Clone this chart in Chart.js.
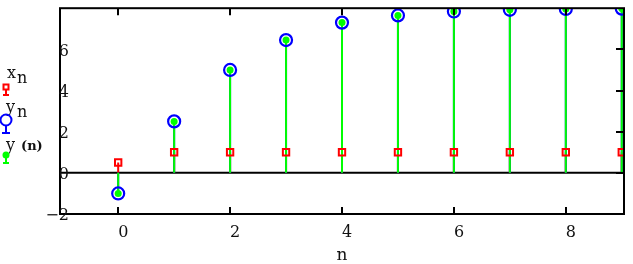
<!DOCTYPE html>
<html>
<head>
<meta charset="utf-8">
<script src="https://cdn.jsdelivr.net/npm/chart.js@4.4.0/dist/chart.umd.min.js"></script>
<style>
  html, body { margin: 0; padding: 0; background: #fff; }
  #wrap { width: 633px; height: 264px; }
</style>
</head>
<body>
<div id="wrap"><canvas id="stemChart" width="633" height="264"></canvas></div>
<script>
// sample index and the two sequences
const nValues = [0, 1, 2, 3, 4, 5, 6, 7, 8, 9];
const xn = [0.5, 1, 1, 1, 1, 1, 1, 1, 1, 1];
const yn = [-1, 2.5, 5.0, 6.45, 7.3, 7.65, 7.84, 7.92, 7.96, 7.98];

// axis ticks
const xTicks = [0, 2, 4, 6, 8];
const yTicks = [-2, 0, 2, 4, 6, 8];
const yTickLabels = ["\u22122", "0", "2", "4", "6", ""];

const RED = "#ff0000";
const BLUE = "#0000ff";
const GREEN = "#00ff00";
const SERIF = '"DejaVu Serif", "Liberation Serif", serif';

function toPoints(values) {
  return nValues.map((n, i) => ({ x: n, y: values[i] }));
}

// Function to draw the little legend on the left
function drawLegend(ctx) {
  ctx.save();
  ctx.fillStyle = "#111";
  ctx.textBaseline = "alphabetic";
  ctx.font = "16px " + SERIF;
  ctx.fillText("x", 7, 78);
  ctx.fillText("n", 17, 83);
  ctx.fillText("y", 6, 112);
  ctx.fillText("n", 17, 117);
  ctx.fillText("y", 6, 150);
  ctx.font = "bold 13px " + SERIF;
  ctx.fillText("(n)", 21, 150);

  ctx.lineWidth = 2;
  // x_n icon
  ctx.strokeStyle = RED;
  ctx.strokeRect(3.5, 84.5, 5, 5);
  ctx.beginPath();
  ctx.moveTo(6, 90); ctx.lineTo(6, 95);
  ctx.moveTo(3, 95); ctx.lineTo(9, 95);
  ctx.stroke();
  // y_n icon
  ctx.strokeStyle = BLUE;
  ctx.beginPath();
  ctx.arc(6, 120, 5.5, 0, Math.PI * 2);
  ctx.stroke();
  ctx.beginPath();
  ctx.moveTo(6, 126); ctx.lineTo(6, 133);
  ctx.moveTo(2, 133); ctx.lineTo(10, 133);
  ctx.stroke();
  // y(n) icon
  ctx.strokeStyle = GREEN;
  ctx.fillStyle = GREEN;
  ctx.beginPath();
  ctx.arc(6, 155, 3.5, 0, Math.PI * 2);
  ctx.fill();
  ctx.beginPath();
  ctx.moveTo(6, 157); ctx.lineTo(6, 163);
  ctx.moveTo(3, 163); ctx.lineTo(9, 163);
  ctx.stroke();
  ctx.restore();
}

// frame, zero line, inward tick marks and y labels sitting over the axis
const framePlugin = {
  id: "frame",
  beforeDatasetsDraw(chart) {
    const { ctx, chartArea: a, scales } = chart;
    const y0 = scales.y.getPixelForValue(0);
    ctx.save();
    ctx.strokeStyle = "#000";
    ctx.lineWidth = 2;
    ctx.beginPath();
    ctx.moveTo(a.left, y0);
    ctx.lineTo(a.right, y0);
    ctx.stroke();
    ctx.restore();
  },
  afterDraw(chart) {
    const { ctx, chartArea: a, scales } = chart;
    ctx.save();
    ctx.strokeStyle = "#000";
    ctx.lineWidth = 2;
    ctx.strokeRect(a.left, a.top, a.right - a.left, a.bottom - a.top);
    ctx.beginPath();
    xTicks.forEach((v) => {
      const px = Math.round(scales.x.getPixelForValue(v));
      ctx.moveTo(px, a.bottom); ctx.lineTo(px, a.bottom - 7);
      ctx.moveTo(px, a.top); ctx.lineTo(px, a.top + 7);
    });
    yTicks.forEach((v) => {
      if (v === yTicks[0] || v === yTicks[yTicks.length - 1]) return;
      const py = Math.round(scales.y.getPixelForValue(v));
      ctx.moveTo(a.right, py); ctx.lineTo(a.right - 8, py);
    });
    ctx.stroke();

    // y tick labels (Mathcad puts them across the left border)
    ctx.fillStyle = "#111";
    ctx.font = "16px " + SERIF;
    ctx.textAlign = "right";
    ctx.textBaseline = "middle";
    yTicks.forEach((v, i) => {
      const py = scales.y.getPixelForValue(v);
      ctx.fillText(yTickLabels[i], a.left + 9, py + 2);
    });
    ctx.restore();
    drawLegend(ctx);
  },
};

const ctx = document.getElementById("stemChart");
new Chart(ctx, {
  type: "bar",
  data: {
    datasets: [
      {
        type: "scatter",
        label: "y(n)",
        data: toPoints(yn),
        pointStyle: "circle",
        pointRadius: 3.5,
        backgroundColor: GREEN,
        borderWidth: 0,
        clip: 0,
        order: 0,
      },
      {
        type: "scatter",
        label: "y_n",
        data: toPoints(yn),
        pointStyle: "circle",
        pointRadius: 6,
        borderColor: BLUE,
        backgroundColor: "rgba(0,0,0,0)",
        borderWidth: 2.2,
        clip: 0,
        order: 1,
      },
      {
        type: "scatter",
        label: "x_n",
        data: toPoints(xn),
        pointStyle: "rect",
        pointRadius: 4.5,
        borderColor: RED,
        backgroundColor: "rgba(0,0,0,0)",
        borderWidth: 2,
        clip: 0,
        order: 2,
      },
      {
        label: "y(n) stem",
        data: toPoints(yn),
        backgroundColor: GREEN,
        barThickness: 2,
        inflateAmount: 0,
        grouped: false,
        clip: 0,
        order: 3,
      },
      {
        label: "y_n stem",
        data: toPoints(yn),
        backgroundColor: BLUE,
        barThickness: 2,
        inflateAmount: 0,
        grouped: false,
        clip: 0,
        order: 4,
      },
      {
        label: "x_n stem",
        data: toPoints(xn),
        backgroundColor: RED,
        barThickness: 2,
        inflateAmount: 0,
        grouped: false,
        clip: 0,
        order: 5,
      },
    ],
  },
  options: {
    responsive: false,
    animation: false,
    events: [],
    layout: { padding: { left: 0, right: 9, top: 7, bottom: 0 } },
    plugins: {
      legend: { display: false },
      tooltip: { enabled: false },
    },
    scales: {
      x: {
        type: "linear",
        min: -1.04,
        max: 9.04,
        offset: false,
        grid: { display: false, drawTicks: false },
        border: { display: false },
        afterBuildTicks: (scale) => {
          scale.ticks = xTicks.map((v) => ({ value: v }));
        },
        afterFit: (scale) => {
          scale.height = 50;
        },
        ticks: {
          align: "start",
          padding: 9,
          color: "#111",
          font: { family: SERIF, size: 16 },
          maxRotation: 0,
        },
        title: {
          display: true,
          text: "n",
          color: "#111",
          padding: { top: 0, bottom: -2 },
          font: { family: SERIF, size: 17 },
        },
      },
      y: {
        min: -2,
        max: 8,
        grid: { display: false, drawTicks: false },
        border: { display: false },
        afterBuildTicks: (scale) => {
          scale.ticks = yTicks.map((v) => ({ value: v }));
        },
        afterFit: (scale) => {
          scale.width = 60;
        },
        ticks: { display: false },
      },
    },
  },
  plugins: [framePlugin],
});
</script>
</body>
</html>
